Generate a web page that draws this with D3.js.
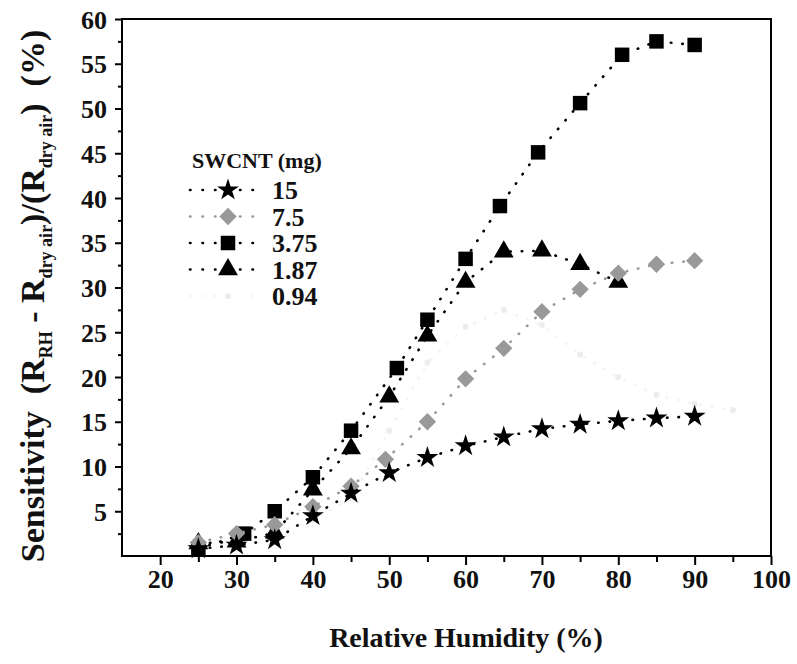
<!DOCTYPE html>
<html>
<head>
<meta charset="utf-8">
<script src="https://cdn.jsdelivr.net/npm/d3@7"></script>
<style>
  body { margin: 0; background: #fff; }
  svg text { font-family: "Liberation Serif", "DejaVu Serif", serif; font-weight: bold; fill: #111; }
</style>
</head>
<body>
<svg id="main-svg" width="797" height="664"></svg>
<script>
// humidity (%) and sensitivity (%)
var rh15 = [25, 30, 35, 40, 45, 50, 55, 60, 65, 70, 75, 80, 85, 90];
var s15 = [0.8, 1.2, 1.8, 4.5, 7.0, 9.3, 11.0, 12.3, 13.3, 14.2, 14.7, 15.1, 15.4, 15.6];

var rh75 = [25, 30, 35, 40, 45, 49.5, 55, 60, 65, 70, 75, 80, 85, 90];
var s75 = [1.5, 2.5, 3.5, 5.5, 7.8, 10.8, 15.0, 19.8, 23.2, 27.3, 29.8, 31.6, 32.6, 33.0];

var rh375 = [25, 31, 35, 40, 45, 51, 55, 60, 64.5, 69.5, 75, 80.5, 85, 90];
var s375 = [0.8, 2.5, 5.0, 8.8, 14.0, 21.0, 26.4, 33.2, 39.1, 45.1, 50.6, 56.0, 57.5, 57.1];

var rh187 = [25, 30, 35, 40, 45, 50, 55, 60, 65, 70, 75, 80];
var s187 = [1.4, 1.6, 2.6, 7.4, 12.0, 17.8, 24.6, 30.6, 34.0, 34.1, 32.6, 30.6];

var rh094 = [25, 30, 35, 40, 45, 50, 55, 60, 65, 70, 75, 80, 85, 90, 95];
var s094 = [1.0, 1.5, 2.5, 4.0, 6.5, 14.0, 21.6, 25.6, 27.5, 25.8, 22.5, 20.0, 18.0, 17.0, 16.3];

var seriesNames = ['15', '7.5', '3.75', '1.87', '0.94'];
var xTicks = [20, 30, 40, 50, 60, 70, 80, 90, 100];
var yTicks = [5, 10, 15, 20, 25, 30, 35, 40, 45, 50, 55, 60];

var svg = d3.select('#main-svg');
var pLeft = 122, pRight = 771, pTop = 19, pBottom = 556;

var x = d3.scaleLinear().domain([15, 100]).range([pLeft, pRight]);
var y = d3.scaleLinear().domain([0, 60]).range([pBottom, pTop]);

var series = [
    {name: seriesNames[0], xs: rh15, ys: s15, shape: d3.symbolStar, size: 150, fill: '#000', line: '#000', rot: 0},
    {name: seriesNames[1], xs: rh75, ys: s75, shape: d3.symbolSquare, size: 150, fill: '#999', line: '#999', rot: 45},
    {name: seriesNames[2], xs: rh375, ys: s375, shape: d3.symbolSquare, size: 210, fill: '#000', line: '#000', rot: 0},
    {name: seriesNames[3], xs: rh187, ys: s187, shape: d3.symbolTriangle, size: 170, fill: '#000', line: '#000', rot: 0},
    {name: seriesNames[4], xs: rh094, ys: s094, shape: d3.symbolCircle, size: 30, fill: '#ededed', line: '#f3f3f3', rot: 0}
];

// frame
svg.append('rect')
    .attr('x', pLeft).attr('y', pTop)
    .attr('width', pRight - pLeft).attr('height', pBottom - pTop)
    .attr('fill', 'none').attr('stroke', '#000').attr('stroke-width', 2);

// axes
var xAxis = svg.append('g').attr('transform', 'translate(0,' + pBottom + ')')
    .call(d3.axisBottom(x).tickValues(xTicks).tickSize(9).tickPadding(5).tickFormat(d3.format('d')));
svg.append('g').attr('transform', 'translate(0,' + pBottom + ')')
    .call(d3.axisBottom(x).tickValues(d3.range(25, 100, 10)).tickSize(6).tickFormat(''));
var yAxis = svg.append('g').attr('transform', 'translate(' + pLeft + ',0)')
    .call(d3.axisLeft(y).tickValues(yTicks).tickSize(7).tickPadding(8).tickFormat(d3.format('d')));
svg.append('g').attr('transform', 'translate(' + pLeft + ',0)')
    .call(d3.axisLeft(y).tickValues(d3.range(2.5, 60, 5)).tickSize(4).tickFormat(''));

svg.selectAll('.domain').remove();
svg.selectAll('.tick line').attr('stroke', '#000').attr('stroke-width', 2);
xAxis.selectAll('text').style('font-size', '26px').attr('fill', '#111');
yAxis.selectAll('text').style('font-size', '26px').attr('fill', '#111').attr('dy', '0.35em');

// lines + markers, faint 0.94 series goes underneath
var line = d3.line().x(function(d) { return x(d[0]); }).y(function(d) { return y(d[1]); });

series.slice().reverse().forEach(function(s) {
    var pts = s.xs.map(function(v, i) { return [v, s.ys[i]]; });
    svg.append('path')
        .datum(pts)
        .attr('d', line)
        .attr('fill', 'none')
        .attr('stroke', s.line)
        .attr('stroke-width', 2.6)
        .attr('stroke-linecap', 'round')
        .attr('stroke-dasharray', '0.5,11');
    svg.append('g').selectAll('path')
        .data(pts).enter().append('path')
        .attr('d', d3.symbol().type(s.shape).size(s.size))
        .attr('transform', function(d) { return 'translate(' + x(d[0]) + ',' + y(d[1]) + ') rotate(' + s.rot + ')'; })
        .attr('fill', s.fill);
});

// legend
var leg = svg.append('g');
leg.append('text').attr('x', 192).attr('y', 168).style('font-size', '22px').text('SWCNT (mg)');
series.forEach(function(s, i) {
    var yy = 190 + i * 26.5;
    leg.append('line')
        .attr('x1', 190).attr('x2', 262).attr('y1', yy).attr('y2', yy)
        .attr('stroke', s.line).attr('stroke-width', 2.6)
        .attr('stroke-linecap', 'round').attr('stroke-dasharray', '0.5,12');
    leg.append('path')
        .attr('d', d3.symbol().type(s.shape).size(s.size))
        .attr('transform', 'translate(228,' + yy + ') rotate(' + s.rot + ')')
        .attr('fill', s.fill);
    leg.append('text').attr('x', 272).attr('y', yy).attr('dy', '0.35em')
        .style('font-size', '26px').text(s.name);
});

// axis titles
svg.append('text')
    .attr('x', 466).attr('y', 647)
    .attr('text-anchor', 'middle')
    .style('font-size', '28px')
    .text('Relative Humidity (%)');

var yt = svg.append('text')
    .attr('transform', 'translate(44,296) rotate(-90)')
    .attr('text-anchor', 'middle')
    .style('font-size', '34px');
yt.append('tspan').text('Sensitivity\u00a0\u00a0(R');
yt.append('tspan').attr('dy', 8).style('font-size', '18px').text('RH');
yt.append('tspan').attr('dy', -8).text(' - R');
yt.append('tspan').attr('dy', 8).style('font-size', '18px').text('dry air');
yt.append('tspan').attr('dy', -8).text(')/(R');
yt.append('tspan').attr('dy', 8).style('font-size', '18px').text('dry air');
yt.append('tspan').attr('dy', -8).text(')\u00a0\u00a0(%)');
</script>
</body>
</html>
